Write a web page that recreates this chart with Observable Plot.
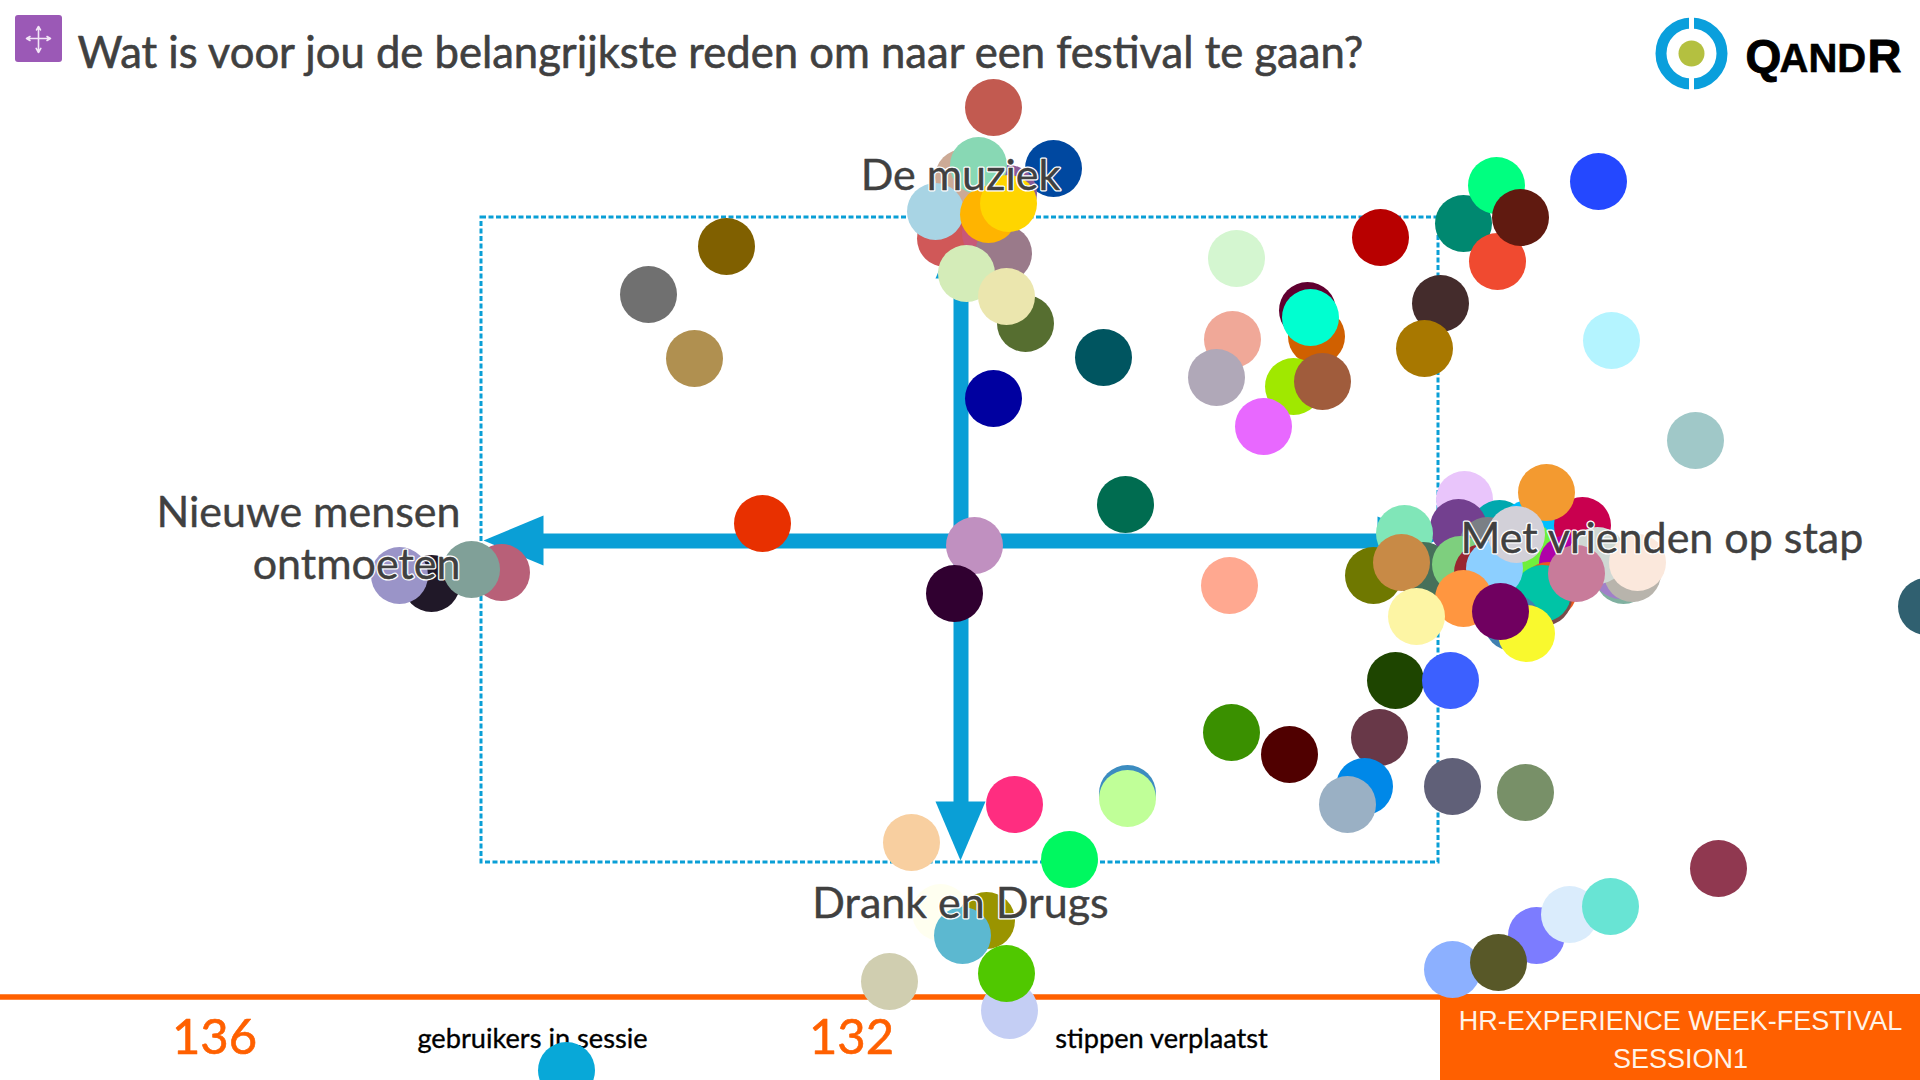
<!DOCTYPE html>
<html lang="nl">
<head>
<meta charset="utf-8">
<title>QANDR</title>
<script src="https://cdn.jsdelivr.net/npm/d3@7"></script>
<script src="https://cdn.jsdelivr.net/npm/@observablehq/plot@0.6"></script>
<style>
html,body{margin:0;padding:0;background:#fff;overflow:hidden;width:1920px;height:1080px}
svg{display:block}
</style>
</head>
<body>
<div id="chart"></div>
<script>
const titleText = "Wat is voor jou de belangrijkste reden om naar een festival te gaan?";
const axisLabels = ["De muziek", "Drank en Drugs", "Nieuwe mensen", "ontmoeten", "Met vrienden op stap"];
const statNumbers = ["136", "132"];
const statLabels = ["gebruikers in sessie", "stippen verplaatst"];
const sessionLines = ["HR-EXPERIENCE WEEK-FESTIVAL", "SESSION1"];

// Dots: position on the 1920 x 1080 board, in drawing order
const dotX = [
  993,1053,1025,945,990,1003,1008,963,978,935,988,1008,966,1006,
  1103,993,1236,1380,1307,1316,1310,1232,1216,1293,1322,1263,
  1440,1424,1463,1497,1496,1520,1598,1611,1695,
  726,648,694,762,1125,974,954,1229,1926,
  1231,1289,1379,1364,1347,1452,1525,
  1014,911,1069,1127,1127,
  940,986,962,889,1009,1006,
  1718,1452,1536,1569,1498,1610,
  431,399,501,471,
  1464,1499,1528,1582,1546,1458,1487,1525,1404,1373,1423,1401,1460,
  1567,1623,1620,1632,1597,1637,1548,1543,1542,1482,1494,1516,1576,1463,1416,1512,1526,1500,
  1395,1450,566
];
const dotY = [
  107,168,323,238,233,253,193,177,165,211,214,203,273,296,
  357,398,258,237,310,336,317,339,377,386,381,426,
  303,348,223,261,185,217,181,340,440,
  246,294,358,523,504,545,593,585,606,
  732,754,737,786,804,786,792,
  804,842,859,793,798,
  912,920,935,981,1010,973,
  868,969,935,914,962,906,
  583,575,572,569,
  499,528,528,525,492,527,545,548,533,575,570,562,564,
  563,575,570,573,555,562,590,597,593,572,568,534,573,598,616,622,633,611,
  680,680,1070
];
const dotFill = [
  "#c25a50","#0048a0","#566e30","#d05858","#c85878","#9a7a8a","#8a5a98","#ccaa96","#88d8b4","#a8d4e4","#ffb400","#ffd500","#d4ecb8","#ebe6ae",
  "#005560","#0000a0","#d4f6d0","#b80000","#600030","#d06000","#00ffd0","#f0a898","#b0a8b8","#a0e800","#a05c3c","#e868ff",
  "#442c2c","#a87800","#008870","#f04a30","#00ff80","#601a10","#2448ff","#b4f4ff","#a0c8c8",
  "#806000","#707070","#b09050","#e83000","#006c50","#c090c0","#300030","#ffa890","#306070",
  "#3a9000","#500000","#683848","#0088e8","#9ab0c4","#606078","#789068",
  "#ff2d80","#f8cfa0","#00f860","#3c8cc0","#c0ff98",
  "#fffff0","#9a9400","#5cb8d0","#d0ceb0","#c4cef4","#50c800",
  "#903850","#8cb0ff","#7c7cff","#daecfc","#585828","#68e4d4",
  "#201828","#9a94c8","#b86078","#80a098",
  "#e9c5fb","#00a8ae","#00bfff","#c9004f","#f39a30","#73408f","#7a7f85","#6ff03c","#80e6b8","#6f7800","#46705a","#c88a46","#7ecf7e",
  "#b000a8","#80b0a0","#a080c8","#b8b4ac","#cfd8d3","#fbe8dc","#e85a20","#7a4b4b","#00c4a6","#9a2630","#8ccfff","#d2d0d8","#c87b9a","#ff9640","#fdf5a4","#4080b0","#f9f92e","#700060",
  "#1e4500","#3c60ff","#08a8d8"
];

const blue = "#0a9fd6", orange = "#ff6000", ink = "#404040";
const dots = dotFill.map((fill, i) => ({x: dotX[i], y: dotY[i], fill}));
const tri = (p) => p.map(([x, y]) => ({x, y}));
const headTop = tri([[960,219],[935,278],[985,278],[960,219]]);
const headBottom = tri([[960,860],[935,801],[985,801],[960,860]]);
const headLeft = tri([[483,540],[543,515],[543,565],[483,540]]);
const headRight = tri([[1436,540],[1377,516],[1377,564],[1436,540]]);
const lato = "Lato, sans-serif";

const t = (text, x, y, o = {}) => Plot.text([text], {text: d => d, x: () => x, y: () => y, lineAnchor: "bottom", fontFamily: lato, ...o});
const label = (text, x, y, anchor) => [
  t(text, x, y, {fontSize: 43, textAnchor: anchor, fill: "#fff", stroke: "#fff", strokeWidth: 3}),
  t(text, x, y, {fontSize: 43, textAnchor: anchor, fill: ink, stroke: ink, strokeWidth: 0.4})
];
const logoFont = {fontFamily: "Liberation Sans", fontWeight: 700, fill: "#000", textAnchor: "start", stroke: "#000"};

const plot = Plot.plot({
  width: 1920, height: 1080,
  margin: 0,
  x: {domain: [0, 1920], range: [0, 1920], axis: null},
  y: {domain: [0, 1080], range: [0, 1080], axis: null},
  color: {type: "identity"},
  style: {background: "#fff"},
  marks: [
    // header
    Plot.rect([0], {x1: () => 15, x2: () => 62, y1: () => 15, y2: () => 62, fill: "#9b59b6", rx: 3}),
    Plot.arrow([[38,38,38,26],[38,38,38,52],[38,38,26,38],[38,38,50,38]], {x1: d => d[0], y1: d => d[1], x2: d => d[2], y2: d => d[3], stroke: "#f3e6f7", strokeWidth: 1.6, headLength: 7, bend: 0}),
    t(titleText, 77, 67, {fontSize: 43.6, fill: ink, stroke: ink, strokeWidth: 0.6, textAnchor: "start"}),
    // logo
    Plot.dot([0], {x: () => 1691, y: () => 53, r: 30.5, stroke: "#0a9fdc", strokeWidth: 11, fill: "none"}),
    Plot.ruleX([1691], {y1: 14, y2: 31, stroke: "#fff", strokeWidth: 5}),
    Plot.ruleX([1691], {y1: 75, y2: 92, stroke: "#fff", strokeWidth: 5}),
    Plot.dot([0], {x: () => 1691, y: () => 53, r: 13, fill: "#b4c040"}),
    t("Q", 1745, 71, {fontSize: 46, strokeWidth: 1, ...logoFont}),
    t("AND", 1779, 71, {fontSize: 40, strokeWidth: 0.6, ...logoFont}),
    t("R", 1867, 71, {fontSize: 47, strokeWidth: 1, ...logoFont}),
    // footer
    Plot.ruleY([996.5], {x1: 0, x2: 1440, stroke: orange, strokeWidth: 5.5}),
    Plot.rect([0], {x1: () => 1440, x2: () => 1920, y1: () => 994, y2: () => 1080, fill: orange}),
    t(statNumbers[0], 214, 1053, {fontSize: 49, fill: orange, stroke: orange, strokeWidth: 0.6, textAnchor: "middle"}),
    t(statNumbers[1], 851, 1053, {fontSize: 49, fill: orange, stroke: orange, strokeWidth: 0.6, textAnchor: "middle"}),
    t(statLabels[0], 532, 1047, {fontSize: 27.2, fill: "#000", stroke: "#000", strokeWidth: 0.35, textAnchor: "middle"}),
    t(statLabels[1], 1161, 1047, {fontSize: 27.2, fill: "#000", stroke: "#000", strokeWidth: 0.35, textAnchor: "middle"}),
    t(sessionLines[0], 1680, 1029, {fontSize: 27, fontFamily: "Liberation Sans", fill: "#fff3e8", textAnchor: "middle"}),
    t(sessionLines[1], 1680, 1067, {fontSize: 27, fontFamily: "Liberation Sans", fill: "#fff3e8", textAnchor: "middle"}),
    // board
    Plot.rect([0], {x1: () => 481, x2: () => 1438, y1: () => 217, y2: () => 862, fill: "none", stroke: blue, strokeWidth: 3, strokeDasharray: "5,2.5"}),
    Plot.ruleX([960.5], {y1: 270, y2: 810, stroke: blue, strokeWidth: 15}),
    Plot.ruleY([540.5], {x1: 535, x2: 1385, stroke: blue, strokeWidth: 15}),
    ...[headTop, headBottom, headLeft, headRight].map(h => Plot.line(h, {x: "x", y: "y", fill: blue, stroke: "none"})),
    // dots
    Plot.dot(dots, {x: "x", y: "y", fill: "fill", r: 28.5}),
    // axis labels
    ...label(axisLabels[0], 960, 189, "middle"),
    ...label(axisLabels[1], 960, 917, "middle"),
    ...label(axisLabels[2], 460, 526, "end"),
    ...label(axisLabels[3], 460, 578, "end"),
    ...label(axisLabels[4], 1460, 552, "start")
  ]
});
document.getElementById("chart").append(plot);
</script>
</body>
</html>
